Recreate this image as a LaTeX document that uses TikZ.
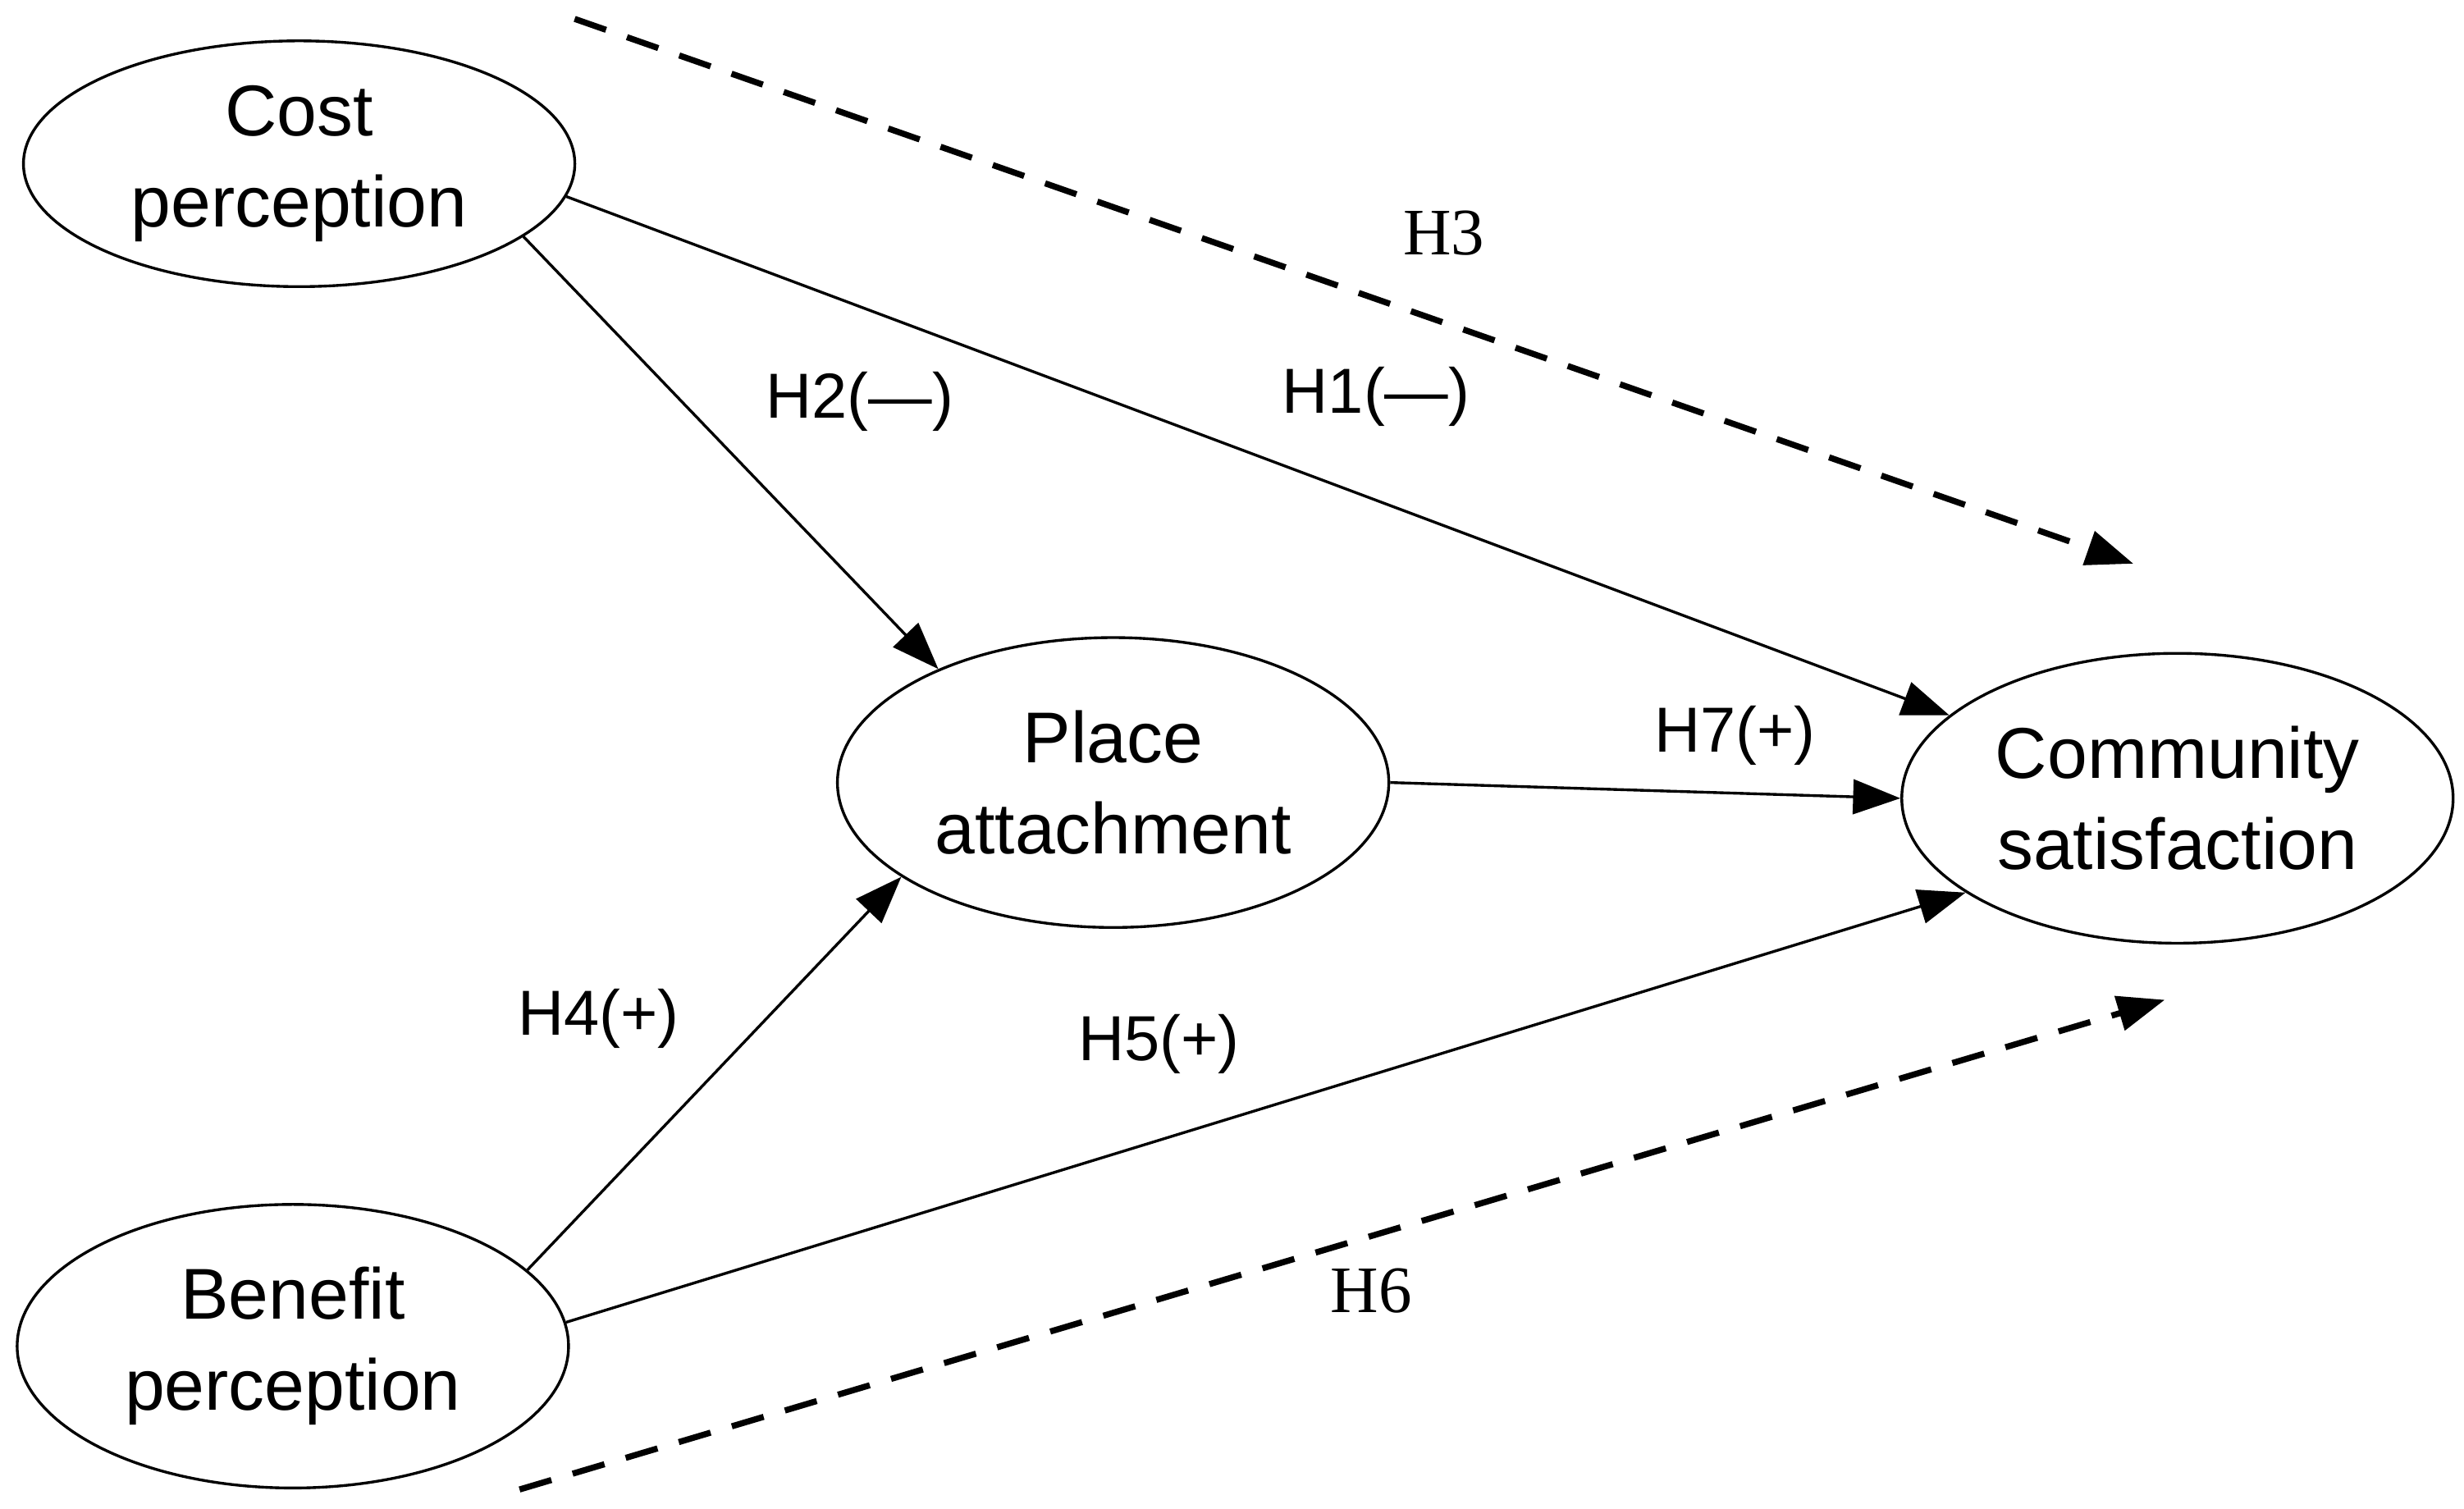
\documentclass[tikz,border=0pt]{standalone}
\usepackage{fontspec}
\setmainfont{Liberation Sans}
\newfontfamily\tms{Liberation Serif}
\usetikzlibrary{shapes.geometric,arrows.meta}
\begin{document}
\begin{tikzpicture}[x=0.01cm,y=-0.01cm,
  ell/.style={ellipse,draw,line width=0.5pt,inner sep=0pt,align=center,font=\fontsize{13pt}{16.5pt}\selectfont},
  arr/.style={-{Triangle[length=0.3cm,width=0.22cm]},line width=0.5pt},
  dasharr/.style={-{Triangle[length=0.3cm,width=0.22cm]},line width=1.1pt,dash pattern=on 6pt off 4pt},
  lab/.style={font=\fontsize{11.5pt}{14pt}\selectfont},
  slab/.style={font=\tms\fontsize{12pt}{14pt}\selectfont}]
\useasboundingbox (0,0) rectangle (1565,958);
\node[ell,minimum width=3.5cm,minimum height=1.56cm] (cost) at (190,104) {Cost\\perception};
\node[ell,minimum width=3.5cm,minimum height=1.84cm] (place) at (707,497) {Place\\attachment};
\node[ell,minimum width=3.5cm,minimum height=1.84cm] (comm) at (1383,507) {Community\\satisfaction};
\node[ell,minimum width=3.5cm,minimum height=1.8cm] (ben) at (186,855) {Benefit\\perception};
\draw[arr] (cost.-7.6) -- (comm.160);
\draw[arr] (cost.-18.5) -- (place.147);
\draw[arr] (place.east) -- (comm.west);
\draw[arr] (ben.18.5) -- (place.-156);
\draw[arr] (ben.5.6) -- (comm.-156);
\coordinate (d1s) at (365,12); \coordinate (d1e) at (1355,358);
\coordinate (d2s) at (330,946); \coordinate (d2e) at (1375,635);
\draw[dasharr] (d1s) -- (d1e);
\draw[dasharr] (d2s) -- (d2e);
\node[slab] (h3) at (917,148) {H3};
\node[slab] (h6) at (871,820) {H6};
\node[lab] (h2) at (546,255) {H2(—)};
\node[lab] (h1) at (874,252) {H1(—)};
\node[lab] (h7) at (1102,467) {H7(+)};
\node[lab] (h4) at (380,647) {H4(+)};
\node[lab] (h5) at (736,663) {H5(+)};
\end{tikzpicture}
\end{document}
